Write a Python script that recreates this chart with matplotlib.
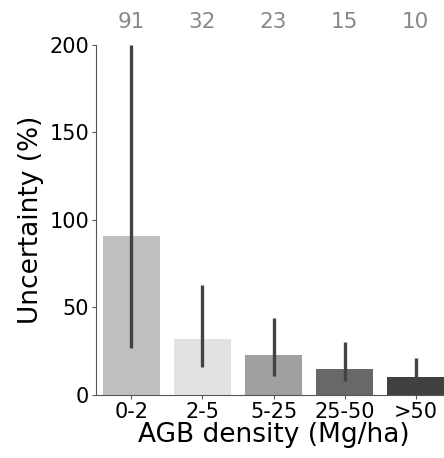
import numpy as np
import matplotlib.pyplot as plt

# Données
categories = ['0-2', '2-5', '5-25', '25-50', '>50']
uncertainty = [91, 32, 23, 15, 10]
err_low = [27, 16, 11, 8, 5]
err_high = [200, 63, 44, 30, 21]
labels_top = ['91', '32', '23', '15', '10']
bar_colors = ['#c0c0c0', '#e2e2e2', '#a0a0a0', '#686868', '#404040']

fig = plt.figure(figsize=(4.44, 4.58), dpi=100)
ax = fig.add_axes([0.216, 0.1376, 0.80, 0.7644])

x = np.arange(len(categories))
ax.bar(x, uncertainty, width=0.8, color=bar_colors)
ax.vlines(x, err_low, err_high, color='#424242', linewidth=2.4)

ax.set_xlim(-0.5, len(categories) - 0.5)
ax.set_ylim(0, 200)
ax.set_yticks([0, 50, 100, 150, 200])
ax.set_xticks(x)
ax.set_xticklabels(categories)
ax.tick_params(labelsize=15, length=3, color='#555555', pad=2)

for s in ['top', 'right']:
    ax.spines[s].set_visible(False)
for s in ['left', 'bottom']:
    ax.spines[s].set_color('#555555')

ax.set_ylabel('Uncertainty (%)', fontsize=19, labelpad=4)
ax.set_xlabel('AGB density (Mg/ha)', fontsize=19, labelpad=0)

for i, t in enumerate(labels_top):
    ax.text(x[i], 1.065, t, transform=ax.get_xaxis_transform(),
            ha='center', va='center', fontsize=15.5, color='#888888')

fig.savefig('out.png', dpi=100)
